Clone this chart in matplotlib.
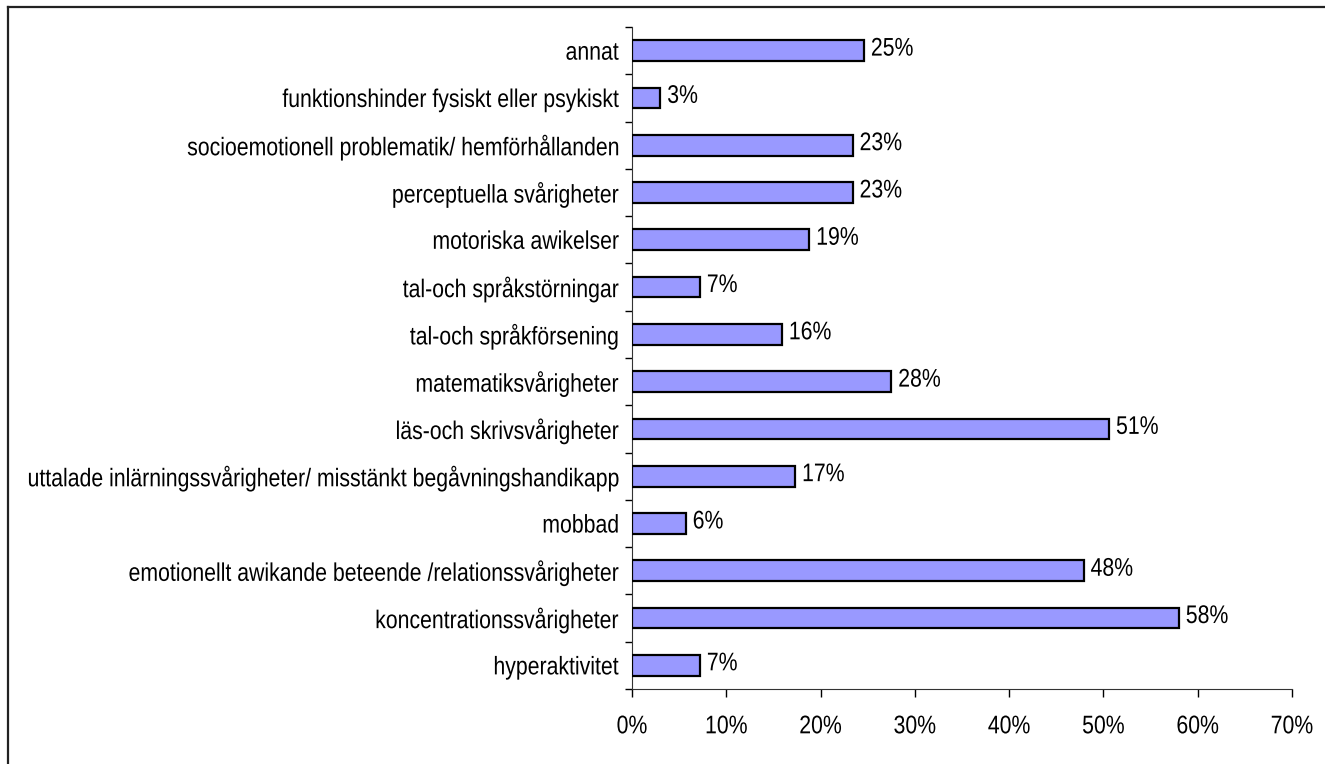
import matplotlib.pyplot as plt
from matplotlib.lines import Line2D
from matplotlib.ticker import FixedLocator, PercentFormatter
from matplotlib.patheffects import AbstractPathEffect
from matplotlib.transforms import Affine2D

# Share of pupils per reason (percent), listed bottom to top
categories = [
    'hyperaktivitet',
    'koncentrationssvårigheter',
    'emotionellt awikande beteende /relationssvårigheter',
    'mobbad',
    'uttalade inlärningssvårigheter/ misstänkt begåvningshandikapp',
    'läs-och skrivsvårigheter',
    'matematiksvårigheter',
    'tal-och språkförsening',
    'tal-och språkstörningar',
    'motoriska awikelser',
    'perceptuella svårigheter',
    'socioemotionell problematik/ hemförhållanden',
    'funktionshinder fysiskt eller psykiskt',
    'annat',
]
values = [7.2, 58.0, 47.9, 5.7, 17.3, 50.6, 27.5, 15.9, 7.2, 18.8, 23.4, 23.4, 3.0, 24.6]
xticks = [0, 10, 20, 30, 40, 50, 60, 70]


class Tall(AbstractPathEffect):
    """Stretch glyphs vertically around mid cap height (text paths use em = 100)."""

    def __init__(self, sy, yc=36):
        super().__init__()
        self.sy = sy
        self.yc = yc

    def draw_path(self, renderer, gc, tpath, affine, rgbFace=None):
        t = Affine2D().translate(0, -self.yc).scale(1, self.sy).translate(0, self.yc) + affine
        renderer.draw_path(gc, tpath, t, rgbFace)


plt.rcParams['font.family'] = ['Liberation Sans', 'DejaVu Sans']
fsize = 15.3
tall = [Tall(1.2)]

fig = plt.figure(figsize=(13.25, 7.64), dpi=100)
ax = fig.add_axes([632 / 1325, 1 - 689 / 764, (1292 - 632) / 1325, (689 - 27) / 764])

pos = range(len(categories))
ax.barh(pos, values, height=0.44, color='#9999ff', edgecolor='black', linewidth=1.6, zorder=3)
for y, v in zip(pos, values):
    t = ax.annotate(f'{v:.0f}%', (v, y), xytext=(5, 1.5), textcoords='offset points',
                    va='center', ha='left', fontsize=fsize)
    t.set_path_effects(tall)

ax.set_xlim(0, 70)
ax.set_ylim(-0.5, len(categories) - 0.5)
ax.xaxis.set_major_locator(FixedLocator(xticks))
ax.xaxis.set_major_formatter(PercentFormatter(decimals=0))
ax.tick_params(axis='x', length=6, width=1, pad=14, labelsize=fsize)

# category labels sit between boundary ticks, Excel style
ax.set_yticks(list(pos))
ax.set_yticklabels(categories, fontsize=fsize)
ax.set_yticks([p - 0.5 for p in pos] + [len(categories) - 0.5], minor=True)
ax.tick_params(axis='y', which='major', length=0, pad=9.5)
ax.tick_params(axis='y', which='minor', length=5, width=1)

for lbl in ax.get_yticklabels() + ax.get_xticklabels():
    lbl.set_path_effects(tall)

for s in ['top', 'right']:
    ax.spines[s].set_visible(False)
ax.spines['left'].set_color('#333333')
ax.spines['bottom'].set_color('#333333')

# frame lines along the top and left edge of the figure
fig.add_artist(Line2D([8 / 1325, 8 / 1325], [0, 1 - 7 / 764], color='#222222', lw=1.6, transform=fig.transFigure))
fig.add_artist(Line2D([8 / 1325, 1], [1 - 7 / 764, 1 - 7 / 764], color='#222222', lw=1.6, transform=fig.transFigure))

fig.savefig('out.png', dpi=100)
